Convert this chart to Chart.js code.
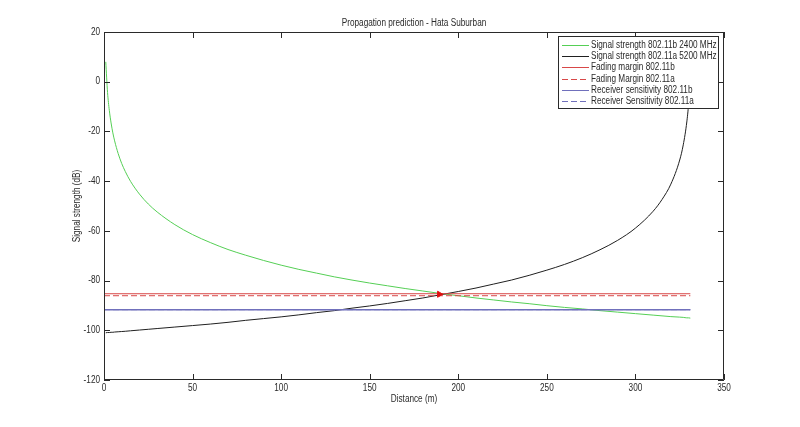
<!DOCTYPE html>
<html>
<head>
<meta charset="utf-8">
<script src="https://cdn.jsdelivr.net/npm/chart.js@4.4.0/dist/chart.umd.min.js"></script>
<style>
  html, body { margin: 0; padding: 0; background: #fff; }
  #wrap { width: 800px; height: 427px; }
</style>
</head>
<body>
<div id="wrap"><canvas id="chart" width="800" height="427"></canvas></div>
<script>
// values
const distance = [1, 2, 3, 4, 5, 6, 8, 10, 12, 15, 20, 25, 30, 40, 50, 60, 70, 80, 90, 100,
  110, 120, 130, 140, 150, 160, 170, 180, 190, 200, 210, 220, 230, 240, 250, 260, 270, 280,
  290, 300, 310, 315, 320, 325, 327, 329, 330, 331];
const strength2400 = [8.0, -4.3, -11.5, -16.6, -20.6, -23.8, -28.9, -32.9, -36.1, -40.1, -45.2,
  -49.2, -52.4, -57.5, -61.5, -64.7, -67.5, -69.8, -71.9, -73.8, -75.5, -77.0, -78.5, -79.8,
  -81.0, -82.1, -83.2, -84.2, -85.2, -86.1, -87.0, -87.8, -88.6, -89.3, -90.1, -90.8, -91.4,
  -92.1, -92.7, -93.3, -93.9, -94.2, -94.5, -94.7, -94.8, -95.0, -95.0, -95.1];
const strength5200 = [-101.0, -100.9, -100.9, -100.8, -100.8, -100.7, -100.6, -100.5, -100.4,
  -100.2, -99.9, -99.6, -99.3, -98.7, -98.1, -97.5, -96.8, -96.0, -95.3, -94.6, -93.8, -92.9,
  -92.1, -91.1, -90.2, -89.2, -88.1, -87.0, -85.7, -84.4, -83.0, -81.4, -79.8, -77.9, -75.8,
  -73.5, -70.8, -67.6, -63.8, -58.9, -52.1, -47.4, -41.2, -31.5, -25.4, -16.2, -8.9, 3.6];
const levelRange = [0, 331];
const fadingMargin11b = -85.3;
const fadingMargin11a = -86.1;
const sensitivity11b = -91.7;
const sensitivity11a = -91.7;
const crossingPoint = [189.3, -85.5];
const legendLabels = [
  "Signal strength 802.11b 2400 MHz",
  "Signal strength 802.11a 5200 MHz",
  "Fading margin 802.11b",
  "Fading Margin 802.11a",
  "Receiver sensitivity 802.11b",
  "Receiver Sensitivity 802.11a"
];
const titleText = "Propagation prediction - Hata Suburban";
const xTitle = "Distance (m)";
const yTitle = "Signal strength (dB)";

const FONT = "10px 'Liberation Sans', Arial, sans-serif";
const NARROW = 0.82;   // MATLAB's sans is narrower than Arial
const INK = "#2a2a2a";

// line styles, shared by plot and legend
const lineStyles = [
  { color: "#55cf55", width: 1, dash: [] },
  { color: "#202020", width: 1, dash: [] },
  { color: "#d84848", width: 1, dash: [] },
  { color: "#d84848", width: 1, dash: [6, 3] },
  { color: "#7070bc", width: 1.5, dash: [] },
  { color: "#7070bc", width: 1, dash: [6, 3] }
];

function curve(xs, ys) {
  return xs.map((x, i) => ({ x: x, y: ys[i] }));
}
function level(v) {
  return levelRange.map(x => ({ x: x, y: v }));
}

const series = [
  curve(distance, strength2400),
  curve(distance, strength5200),
  level(fadingMargin11b),
  level(fadingMargin11a),
  level(sensitivity11b),
  level(sensitivity11a)
];

const datasets = series.map((data, i) => ({
  data: data,
  borderColor: lineStyles[i].color,
  borderWidth: lineStyles[i].width,
  borderDash: lineStyles[i].dash,
  cubicInterpolationMode: i < 2 ? "monotone" : "default",
  pointRadius: 0,
  fill: false,
  order: 6 - i   // later series on top, like MATLAB
}));
datasets.push({
  data: [{ x: crossingPoint[0], y: crossingPoint[1] }],
  showLine: false, pointStyle: "triangle", rotation: 90, pointRadius: 3.5,
  pointBackgroundColor: "#e01010", pointBorderColor: "#e01010", pointBorderWidth: 1, order: 0
});

function narrowText(ctx, text, x, y, align, angle) {
  ctx.save();
  ctx.translate(x, y);
  if (angle) ctx.rotate(angle);
  ctx.scale(NARROW, 1);
  ctx.textAlign = align;
  ctx.fillText(text, 0, 0);
  ctx.restore();
}

// MATLAB style frame: box, inward ticks, labels, legend inside the axes
const matlabFrame = {
  id: "matlabFrame",
  afterDraw(chart) {
    const ctx = chart.ctx;
    const a = chart.chartArea;
    const xs = chart.scales.x, ys = chart.scales.y;
    const tick = 6;
    ctx.save();
    ctx.strokeStyle = INK;
    ctx.lineWidth = 1;
    ctx.beginPath();
    ctx.rect(a.left + 0.5, a.top + 0.5, a.right - a.left - 1, a.bottom - a.top - 1);
    xs.ticks.forEach(t => {
      const px = Math.round(xs.getPixelForValue(t.value)) + 0.5;
      ctx.moveTo(px, a.bottom); ctx.lineTo(px, a.bottom - tick);
      ctx.moveTo(px, a.top); ctx.lineTo(px, a.top + tick);
    });
    ys.ticks.forEach(t => {
      const py = Math.round(ys.getPixelForValue(t.value)) + 0.5;
      ctx.moveTo(a.left, py); ctx.lineTo(a.left + tick, py);
      ctx.moveTo(a.right, py); ctx.lineTo(a.right - tick, py);
    });
    ctx.stroke();

    ctx.fillStyle = INK;
    ctx.font = FONT;
    ctx.textBaseline = "middle";
    xs.ticks.forEach(t => {
      narrowText(ctx, String(t.value), xs.getPixelForValue(t.value), a.bottom + 8, "center");
    });
    ys.ticks.forEach(t => {
      narrowText(ctx, String(t.value), a.left - 4, ys.getPixelForValue(t.value), "right");
    });
    narrowText(ctx, titleText, (a.left + a.right) / 2, 23, "center");
    narrowText(ctx, xTitle, (a.left + a.right) / 2, 399, "center");
    narrowText(ctx, yTitle, 77, (a.top + a.bottom) / 2, "center", -Math.PI / 2);

    // legend
    const box = { left: 558, top: 36, right: 719, bottom: 109 };
    ctx.fillStyle = "#fff";
    ctx.fillRect(box.left, box.top, box.right - box.left, box.bottom - box.top);
    ctx.strokeStyle = INK;
    ctx.strokeRect(box.left + 0.5, box.top + 0.5, box.right - box.left - 1, box.bottom - box.top - 1);
    legendLabels.forEach((label, i) => {
      const st = lineStyles[i];
      const y = Math.round(44.7 + i * 11.3) + 0.5;
      ctx.beginPath();
      ctx.strokeStyle = st.color;
      ctx.lineWidth = 1;
      ctx.setLineDash(st.dash);
      ctx.moveTo(562, y);
      ctx.lineTo(589, y);
      ctx.stroke();
      ctx.setLineDash([]);
      ctx.fillStyle = INK;
      narrowText(ctx, label, 591, y, "left");
    });
    ctx.restore();
  }
};

new Chart(document.getElementById("chart"), {
  type: "line",
  data: { datasets: datasets },
  options: {
    responsive: false,
    animation: false,
    devicePixelRatio: 1,
    layout: { padding: { top: 32, right: 76, left: 0, bottom: 0 } },
    plugins: { legend: { display: false }, title: { display: false }, tooltip: { enabled: false } },
    scales: {
      x: {
        type: "linear", min: 0, max: 350,
        ticks: { stepSize: 50, display: false },
        grid: { display: false, drawTicks: false },
        border: { display: false },
        afterFit(s) { s.height = 47; }
      },
      y: {
        type: "linear", min: -120, max: 20,
        ticks: { stepSize: 20, display: false },
        grid: { display: false, drawTicks: false },
        border: { display: false },
        afterFit(s) { s.width = 104; }
      }
    }
  },
  plugins: [matlabFrame]
});
</script>
</body>
</html>
